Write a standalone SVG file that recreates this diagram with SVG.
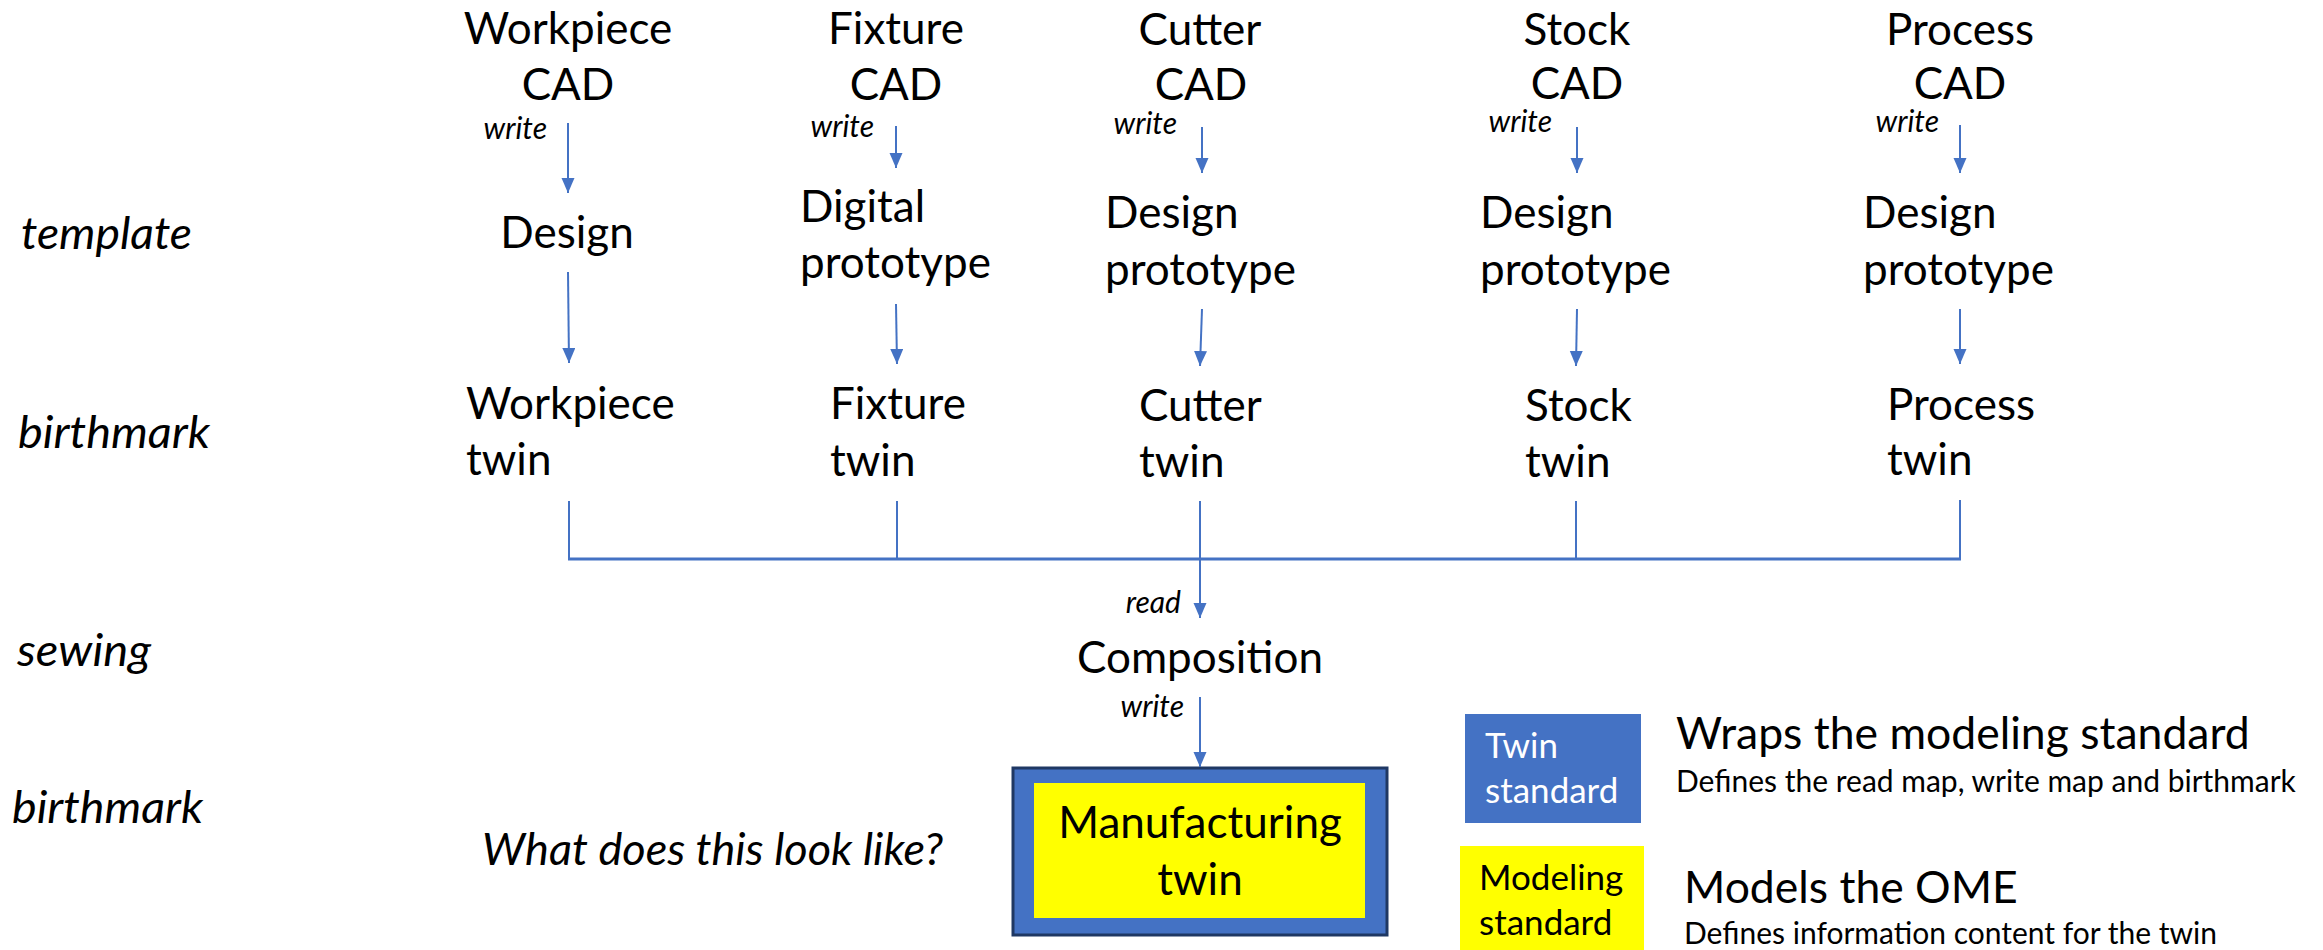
<svg xmlns="http://www.w3.org/2000/svg" width="2323" height="950" viewBox="0 0 2323 950">
<defs>
<style>
text { font-family: Lato, "Liberation Sans", sans-serif; fill: #000; }
.m { font-size: 44px; }
.c { text-anchor: middle; }
.e { text-anchor: end; }
.it { font-style: italic; font-size: 45px; }
.sm { font-style: italic; font-size: 30px; }
.bx { font-size: 35px; }
.w { fill: #fff; }
.d { font-size: 30px; }
.lg { font-size: 44.5px; }
.cn { fill: none; stroke: #4472C4; stroke-width: 2; }
.br { fill: none; stroke: #4472C4; stroke-width: 3; }
</style>
<marker id="ah" markerUnits="userSpaceOnUse" markerWidth="16" markerHeight="14" refX="15" refY="6.5" orient="auto">
<path d="M0,0 L15,6.5 L0,13 z" fill="#4472C4"/>
</marker>
</defs>
<rect width="2323" height="950" fill="#fff"/>

<g id="row-labels">
<text class="it" x="21" y="249" textLength="171" lengthAdjust="spacingAndGlyphs">template</text>
<text class="it" x="18" y="448" textLength="192" lengthAdjust="spacingAndGlyphs">birthmark</text>
<text class="it" x="17" y="666" textLength="134" lengthAdjust="spacingAndGlyphs">sewing</text>
<text class="it" x="12" y="823" textLength="191" lengthAdjust="spacingAndGlyphs">birthmark</text>
</g>

<g id="workpiece-cad"><text class="m c" x="568" y="44">Workpiece</text><text class="m c" x="568" y="100">CAD</text></g>
<g id="fixture-cad"><text class="m c" x="896" y="44">Fixture</text><text class="m c" x="896" y="100">CAD</text></g>
<g id="cutter-cad"><text class="m c" x="1200" y="45">Cutter</text><text class="m c" x="1201" y="100">CAD</text></g>
<g id="stock-cad"><text class="m c" x="1577" y="45">Stock</text><text class="m c" x="1577" y="99">CAD</text></g>
<g id="process-cad"><text class="m c" x="1960" y="45">Process</text><text class="m c" x="1960" y="99">CAD</text></g>

<g id="workpiece-design"><text class="m c" x="567" y="248">Design</text></g>
<g id="fixture-design"><text class="m" x="800" y="222">Digital</text><text class="m" x="800" y="278">prototype</text></g>
<g id="cutter-design"><text class="m" x="1105" y="228">Design</text><text class="m" x="1105" y="285">prototype</text></g>
<g id="stock-design"><text class="m" x="1480" y="228">Design</text><text class="m" x="1480" y="285">prototype</text></g>
<g id="process-design"><text class="m" x="1863" y="228">Design</text><text class="m" x="1863" y="285">prototype</text></g>

<g id="workpiece-twin"><text class="m" x="466" y="419">Workpiece</text><text class="m" x="466" y="475">twin</text></g>
<g id="fixture-twin"><text class="m" x="830" y="419">Fixture</text><text class="m" x="830" y="476">twin</text></g>
<g id="cutter-twin"><text class="m" x="1139" y="421">Cutter</text><text class="m" x="1139" y="477">twin</text></g>
<g id="stock-twin"><text class="m" x="1525" y="421">Stock</text><text class="m" x="1525" y="477">twin</text></g>
<g id="process-twin"><text class="m" x="1887" y="420">Process</text><text class="m" x="1887" y="475">twin</text></g>

<g id="composition"><text class="m c" x="1200" y="673">Composition</text></g>

<g id="manufacturing-twin">
<rect x="1013" y="768" width="374" height="167" fill="#4472C4" stroke="#1F3864" stroke-width="3"/>
<rect x="1034" y="783" width="331" height="135" fill="#FFFF00"/>
<text class="m c" x="1200" y="838">Manufacturing</text>
<text class="m c" x="1200" y="895">twin</text>
</g>

<g id="question"><text class="it" x="482" y="865" textLength="461" lengthAdjust="spacingAndGlyphs">What does this look like?</text></g>

<g id="legend-twin-standard">
<rect x="1465" y="714" width="176" height="109" fill="#4472C4"/>
<text class="bx w" x="1485" y="758">Twin</text>
<text class="bx w" x="1485" y="803">standard</text>
<text class="lg" x="1676" y="749">Wraps the modeling standard</text>
<text class="d" x="1676" y="792">Defines the read map, write map and birthmark</text>
</g>

<g id="legend-modeling-standard">
<rect x="1460" y="846" width="184" height="104" fill="#FFFF00"/>
<text class="bx" x="1479" y="890">Modeling</text>
<text class="bx" x="1479" y="935">standard</text>
<text class="lg" x="1684" y="903">Models the OME</text>
<text class="d" x="1684" y="944">Defines information content for the twin</text>
</g>

<g id="connectors">
<line class="cn" x1="568" y1="123" x2="568" y2="193" marker-end="url(#ah)"/>
<line class="cn" x1="896" y1="126" x2="896" y2="168" marker-end="url(#ah)"/>
<line class="cn" x1="1202" y1="127" x2="1202" y2="173" marker-end="url(#ah)"/>
<line class="cn" x1="1577" y1="127" x2="1577" y2="173" marker-end="url(#ah)"/>
<line class="cn" x1="1960" y1="125" x2="1960" y2="173" marker-end="url(#ah)"/>

<line class="cn" x1="568" y1="272" x2="569" y2="363" marker-end="url(#ah)"/>
<line class="cn" x1="896" y1="304" x2="897" y2="364" marker-end="url(#ah)"/>
<line class="cn" x1="1202" y1="309" x2="1200" y2="366" marker-end="url(#ah)"/>
<line class="cn" x1="1577" y1="309" x2="1576" y2="366" marker-end="url(#ah)"/>
<line class="cn" x1="1960" y1="309" x2="1960" y2="364" marker-end="url(#ah)"/>

<line class="cn" x1="569" y1="501" x2="569" y2="559"/>
<line class="cn" x1="897" y1="501" x2="897" y2="559"/>
<line class="cn" x1="1576" y1="501" x2="1576" y2="559"/>
<line class="cn" x1="1960" y1="500" x2="1960" y2="559"/>
<line class="br" x1="568" y1="559" x2="1961" y2="559"/>
<line class="cn" x1="1200" y1="501" x2="1200" y2="618" marker-end="url(#ah)"/>
<line class="cn" x1="1200" y1="697" x2="1200" y2="767" marker-end="url(#ah)"/>

<text class="sm e" x="547" y="139">write</text>
<text class="sm e" x="874" y="137">write</text>
<text class="sm e" x="1177" y="134">write</text>
<text class="sm e" x="1552" y="132">write</text>
<text class="sm e" x="1939" y="132">write</text>
<text class="sm e" x="1181" y="613">read</text>
<text class="sm e" x="1184" y="717">write</text>
</g>
</svg>
